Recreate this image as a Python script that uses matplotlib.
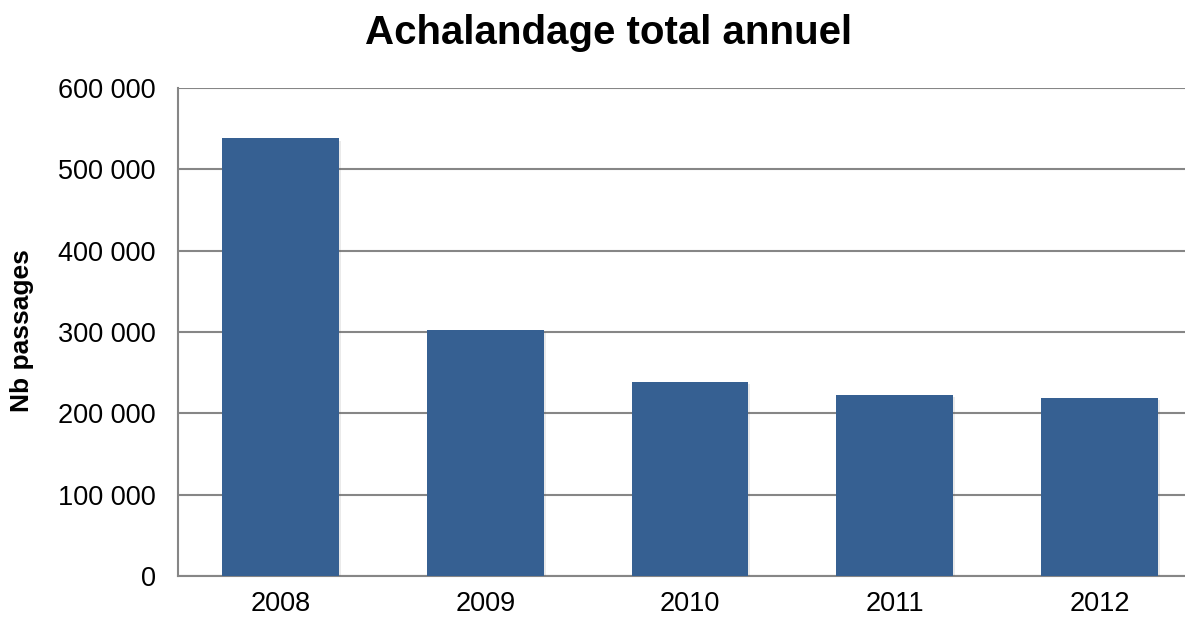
import matplotlib
matplotlib.use("Agg")
import matplotlib.pyplot as plt
from matplotlib.ticker import FuncFormatter
import matplotlib.patheffects as pe

years = ["2008", "2009", "2010", "2011", "2012"]
passages = [538000, 303000, 239000, 223000, 219000]
yticks = [0, 100000, 200000, 300000, 400000, 500000, 600000]

plt.rcParams['font.family'] = ['Liberation Sans', 'DejaVu Sans']

fig = plt.figure(figsize=(11.85, 6.18), dpi=100)
ax = fig.add_axes([178/1185, 42/618, 1 - 178/1185, 488/618])

x = list(range(len(years)))
bars = ax.bar(x, passages, width=0.57, color="#366092", zorder=3)
for b in bars:
    b.set_path_effects([pe.SimplePatchShadow(offset=(1.5, -1.5), alpha=0.12, shadow_rgbFace="#555555"), pe.Normal()])

ax.set_xlim(-0.5, 4.5 - 17/205)
ax.set_ylim(0, 600000)
ax.set_yticks(yticks)
ax.yaxis.set_major_formatter(FuncFormatter(lambda v, p: f"{int(v):,}".replace(",", " ")))
ax.set_xticks(x)
ax.set_xticklabels(years)
ax.grid(axis="y", color="#868686", linewidth=1.5, zorder=0)
ax.set_axisbelow(True)
for s in ["top", "right"]:
    ax.spines[s].set_visible(False)
for s in ["left", "bottom"]:
    ax.spines[s].set_color("#868686")
    ax.spines[s].set_linewidth(1.5)
ax.tick_params(axis="both", length=0, labelsize=19.5, colors="black")
ax.tick_params(axis="y", pad=16)
ax.tick_params(axis="x", pad=11)

fig.text(609/1185, 1 - 33/618, "Achalandage total annuel", ha="center", va="center",
         fontsize=29, fontweight="bold")
fig.text(22/1185, 1 - 331/618, "Nb passages", rotation=90, ha="center", va="center",
         fontsize=19, fontweight="bold")

fig.savefig("out.png", dpi=100)
